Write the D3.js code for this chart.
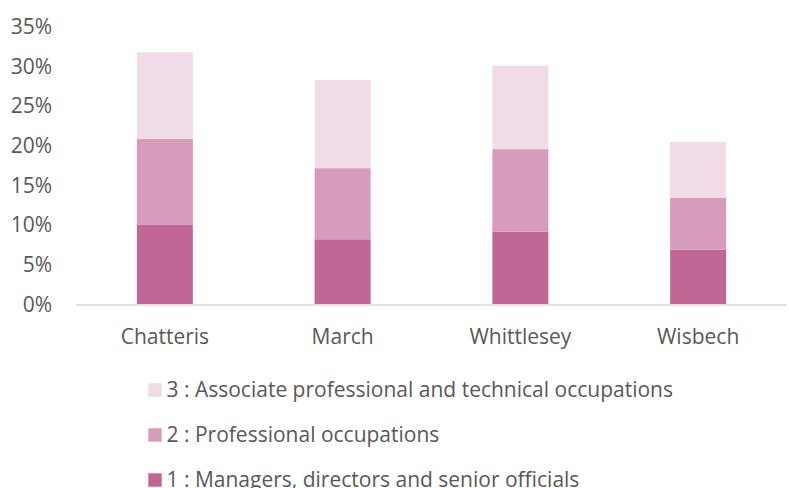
<!DOCTYPE html>
<html><head><meta charset="utf-8">
<script src="https://cdn.jsdelivr.net/npm/d3@7"></script>
<style>body{margin:0;background:#fff}svg{display:block}</style>
</head><body>
<svg id="c" width="789" height="488"></svg>
<script>
const categories = ["Chatteris", "March", "Whittlesey", "Wisbech"];
const seriesNames = [
  "1 : Managers, directors and senior officials",
  "2 : Professional occupations",
  "3 : Associate professional and technical occupations"
];
const managers = [0.0995, 0.0815, 0.091, 0.0684];
const professional = [0.1085, 0.0895, 0.104, 0.0651];
const associate = [0.109, 0.111, 0.105, 0.0705];
const yTicks = [0, 0.05, 0.10, 0.15, 0.20, 0.25, 0.30, 0.35];
const colors = ["#c06795", "#d79cbc", "#f0dbe6"];

const svg = d3.select("#c");
const font = "'Open Sans', sans-serif";
const fs = 21;
const m = {left: 76, right: 787, top: 26, bottom: 304};
const x = d3.scaleBand().domain(categories).range([m.left, m.right]).paddingInner(0.685).paddingOuter(0.3425);
const y = d3.scaleLinear().domain([0, 0.35]).range([m.bottom, m.top]);

const rows = categories.map((c, i) => ({cat: c, s0: managers[i], s1: professional[i], s2: associate[i]}));
const stack = d3.stack().keys(["s0", "s1", "s2"])(rows);

svg.append("g").selectAll("g").data(stack).join("g")
  .attr("fill", (d, i) => colors[i])
  .selectAll("rect").data(d => d).join("rect")
  .attr("x", d => x(d.data.cat))
  .attr("width", x.bandwidth())
  .attr("y", d => y(d[1]))
  .attr("height", d => y(d[0]) - y(d[1]));

const yAxis = d3.axisLeft(y).tickValues(yTicks).tickFormat(d3.format(".0%")).tickSize(0).tickPadding(0);
const gy = svg.append("g").attr("transform", `translate(52,0)`).call(yAxis);
gy.select(".domain").remove();
gy.selectAll("text").attr("x", 0).attr("dy", "0.35em")
  .attr("font-family", font).attr("font-size", fs).attr("fill", "#595959");

svg.append("line").attr("x1", m.left).attr("x2", m.right).attr("y1", y(0) + 1).attr("y2", y(0) + 1)
  .attr("stroke", "#d9d9d9").attr("stroke-width", 1.5);

const xAxis = d3.axisBottom(x).tickSize(0).tickPadding(0);
const gx = svg.append("g").attr("transform", `translate(0,343.5)`).call(xAxis);
gx.select(".domain").remove();
gx.selectAll("text").attr("y", 0).attr("dy", 0)
  .attr("font-family", font).attr("font-size", fs).attr("fill", "#595959");

const legendItems = [2, 1, 0];
const lg = svg.append("g");
legendItems.forEach((si, k) => {
  const cy = 390 + k * 45;
  lg.append("rect").attr("x", 148.3).attr("y", cy - 6.7).attr("width", 13.4).attr("height", 13.4).attr("fill", colors[si]);
  lg.append("text").attr("x", 166.5).attr("y", cy).attr("dy", "0.35em")
    .attr("font-family", font).attr("font-size", fs).attr("fill", "#595959").text(seriesNames[si]);
});
</script>
</body></html>
